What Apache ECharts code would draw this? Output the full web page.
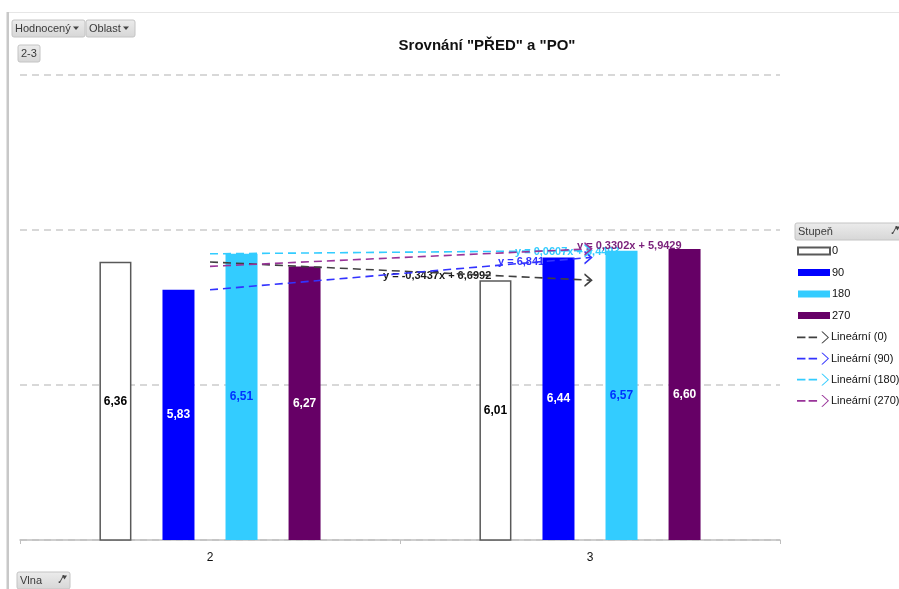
<!DOCTYPE html>
<html>
<head>
<meta charset="utf-8">
<script src="https://cdn.jsdelivr.net/npm/echarts@6/dist/echarts.min.js"></script>
<style>
  html, body { margin: 0; padding: 0; background: #fff; }
  #chart { width: 899px; height: 589px; }
</style>
</head>
<body>
<div id="chart"></div>
<script>
// Categories (wave) and the four "Stupeň" series
const categories = ['2', '3'];
const seriesNames = ['0', '90', '180', '270'];
const values0 = [6.36, 6.01];
const values90 = [5.83, 6.44];
const values180 = [6.51, 6.57];
const values270 = [6.27, 6.60];

// Linear trend equations y = a·x + b (x = 1, 2 for the categories)
const trendNames = ['Lineární (0)', 'Lineární (90)', 'Lineární (180)', 'Lineární (270)'];
const trendSlopes = [-0.3437, 0.61, 0.0607, 0.3302];
const trendIntercepts = [6.6992, 5.22, 6.4493, 5.9429];
const trendLabels = ['y = -0,3437x + 6,6992', 'y = 6,841', 'y = 0,0607x + 6,4493', 'y = 0,3302x + 5,9429'];

const chartTitle = 'Srovnání "PŘED" a "PO"';

const FONT = '"Liberation Sans", Arial, sans-serif';
const barColors = ['#ffffff', '#0000ff', '#33ccff', '#660066'];
const barLabelColors = ['#000000', '#ffffff', '#0033ff', '#ffffff'];
const trendColors = ['#404040', '#3333ff', '#33ccff', '#993399'];
const trendLabelColors = ['#1a1a1a', '#3333ff', '#33ccff', '#7a1f7a'];
const trendLabelPos = [[383, 276], [498, 262], [515, 252], [577, 246]];

const barValues = [values0, values90, values180, values270];

const chart = echarts.init(document.getElementById('chart'), null, { renderer: 'canvas' });

const fmt = v => v.toFixed(2).replace('.', ',');

const barSeries = seriesNames.map((name, i) => ({
  name: name,
  type: 'bar',
  barWidth: 32,
  barGap: '97%',
  data: barValues[i],
  itemStyle: {
    color: barColors[i],
    borderColor: i === 0 ? '#595959' : barColors[i],
    borderWidth: i === 0 ? 1.5 : 0
  },
  label: {
    show: true,
    position: 'inside',
    color: barLabelColors[i],
    fontFamily: FONT,
    fontWeight: 'bold',
    fontSize: 12,
    formatter: p => fmt(p.value)
  },
  z: 2
}));

const chevron = 'path://M0,0 L6,6 L0,12';

const trendSeries = trendNames.map((name, i) => {
  const pts = categories.map((c, k) => +(trendSlopes[i] * (k + 1) + trendIntercepts[i]).toFixed(4));
  return {
    name: name,
    type: 'line',
    data: [{ value: pts[0], symbol: 'none' }, { value: pts[1] }],
    symbol: chevron,
    symbolSize: [7, 12],
    symbolOffset: [-2, 0],
    showSymbol: true,
    lineStyle: { color: trendColors[i], width: 1.6, type: [8, 5] },
    itemStyle: { color: 'rgba(0,0,0,0)', borderColor: trendColors[i], borderWidth: 1.5 },
    silent: true,
    z: 3
  };
});

const legendLineIcon = 'path://M0,5.2h8v1.6h-8z M11,5.2h8v1.6h-8z M23,0.4 L29,6 L23,11.6 L24.3,11.6 L30.3,6 L24.3,0.4z';

function button(x, y, w, h, label, icon) {
  const children = [
    { type: 'rect', shape: { x: 0, y: 0, width: w, height: h, r: 2 },
      style: { fill: new echarts.graphic.LinearGradient(0, 0, 0, 1, [
        { offset: 0, color: '#ececec' }, { offset: 1, color: '#d6d6d6' }]),
        stroke: '#c4c4c4', lineWidth: 1 } },
    { type: 'text', x: 3, y: h / 2,
      style: { text: label, fill: '#3a3a3a', font: '11px ' + FONT, textVerticalAlign: 'middle' } }
  ];
  if (icon === 'drop') {
    children.push({ type: 'polygon', shape: { points: [[w - 12, h / 2 - 2], [w - 6, h / 2 - 2], [w - 9, h / 2 + 1.5]] },
      style: { fill: '#444' } });
  } else if (icon === 'filter') {
    children.push({ type: 'text', x: w - 12, y: h / 2,
      style: { text: '.\u2044', fill: '#444', font: 'bold 10px ' + FONT, textVerticalAlign: 'middle' } });
    children.push({ type: 'polygon', shape: { points: [[w - 8, h / 2 - 5], [w - 3, h / 2 - 5], [w - 5.5, h / 2 - 1]] },
      style: { fill: '#444' } });
  }
  return { type: 'group', x: x, y: y, children: children };
}

const legendText = { color: '#111', fontSize: 11, fontFamily: FONT, padding: [0, 0, 0, -3] };

const option = {
  animation: false,
  backgroundColor: '#ffffff',
  textStyle: { fontFamily: FONT },
  grid: { left: 20, right: 119, top: 75, bottom: 49, containLabel: false },
  xAxis: {
    type: 'category',
    data: categories,
    axisLine: { lineStyle: { color: '#bfbfbf', width: 1.5 } },
    axisTick: { show: true, length: 4, lineStyle: { color: '#bfbfbf' } },
    axisLabel: { color: '#111', fontSize: 12, margin: 12, fontFamily: FONT },
    splitLine: { show: false }
  },
  yAxis: [
    { type: 'value', min: 1.1, max: 9.89, show: false, splitLine: { show: false } },
    { type: 'value', min: 0, max: 3, interval: 1, position: 'left',
      axisLine: { show: false }, axisTick: { show: false }, axisLabel: { show: false },
      splitLine: { show: true, lineStyle: { color: '#cccccc', width: 1.6, type: [7, 5] } } }
  ],
  legend: [
    {
      orient: 'vertical',
      left: 792,
      top: 240.5,
      itemWidth: 32,
      itemHeight: 7,
      itemGap: 10.5,
      textStyle: legendText,
      data: seriesNames.map(n => ({ name: n, icon: 'rect' }))
    },
    {
      orient: 'vertical',
      left: 792,
      top: 326.5,
      itemWidth: 32,
      itemHeight: 12,
      itemGap: 9.3,
      textStyle: legendText,
      data: trendNames.map((n, i) => ({ name: n, icon: legendLineIcon,
        itemStyle: { color: trendColors[i], borderWidth: 0 } }))
    }
  ],
  series: barSeries.concat(trendSeries),
  graphic: [
    { type: 'rect', shape: { x: 6.5, y: 12, width: 2.5, height: 577 }, style: { fill: '#c8c8c8' } },
    { type: 'rect', shape: { x: 9, y: 12, width: 890, height: 1 }, style: { fill: '#e6e6e6' } },
    { type: 'text', x: 487, y: 46,
      style: { text: chartTitle, font: 'bold 15px ' + FONT, fill: '#111', textAlign: 'center', textVerticalAlign: 'middle' } },
    button(12, 20, 73, 17, 'Hodnocený', 'drop'),
    button(86, 20, 49, 17, 'Oblast', 'drop'),
    button(18, 45, 22, 17, '2-3'),
    button(17, 572, 53, 17, 'Vlna', 'filter'),
    button(795, 223, 108, 17, 'Stupeň', 'filter')
  ].concat(trendLabels.map((t, i) => ({
    type: 'text', x: trendLabelPos[i][0], y: trendLabelPos[i][1], z: 1,
    style: { text: t, font: 'bold 11px ' + FONT, fill: trendLabelColors[i], textVerticalAlign: 'middle' }
  })))
};

chart.setOption(option);
</script>
</body>
</html>
